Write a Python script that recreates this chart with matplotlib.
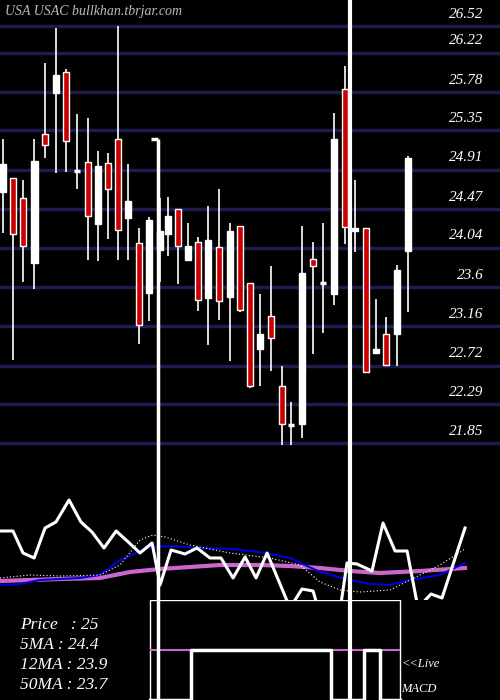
import numpy as np
import matplotlib.pyplot as plt
from matplotlib.patches import Rectangle

# candle data (prices)
opens = [24.66, 24.82, 24.60, 23.87, 25.31, 25.77, 26.00, 24.90, 25.00, 24.30,
         24.99, 25.26, 24.37, 24.09, 23.53, 24.01, 24.19, 24.47, 23.90, 24.10,
         23.48, 24.05, 23.49, 24.28, 23.64, 22.90, 23.27, 22.49, 22.05, 22.07,
         23.91, 23.64, 23.52, 25.81, 24.23, 24.26, 22.86, 23.07, 23.07, 24.00]
closes = [24.97, 24.19, 24.06, 25.01, 25.19, 25.97, 25.23, 24.90, 24.39, 24.95,
          24.70, 24.24, 24.56, 23.17, 24.35, 24.22, 24.39, 24.06, 24.06, 23.45,
          24.13, 23.44, 24.22, 23.34, 22.49, 23.07, 23.03, 22.07, 22.05, 23.75,
          23.83, 23.64, 25.26, 24.27, 24.26, 22.65, 22.90, 22.73, 23.79, 25.04]
highs = [25.25, 24.82, 24.80, 25.25, 26.11, 26.50, 26.04, 25.53, 25.49, 25.12,
         25.10, 26.52, 24.98, 24.26, 24.38, 24.59, 24.61, 24.47, 24.31, 24.16,
         24.50, 24.69, 24.31, 24.28, 23.64, 23.52, 23.83, 22.72, 22.31, 24.28,
         24.10, 24.31, 25.55, 26.07, 24.80, 24.26, 23.47, 23.26, 23.85, 25.07]
lows = [24.20, 22.78, 23.66, 23.58, 25.04, 24.87, 24.88, 24.70, 23.90, 23.89,
        24.14, 23.90, 23.90, 22.96, 23.22, 23.66, 23.95, 23.63, 23.90, 23.33,
        22.95, 23.23, 22.77, 23.32, 22.47, 22.49, 22.66, 21.83, 21.83, 21.91,
        22.85, 23.08, 23.40, 24.08, 23.99, 22.65, 22.86, 22.72, 22.71, 23.32]
candle_x = [0, 0.96, 1.93, 3.0, 4.05, 5.1, 6.07, 7.13, 8.19, 9.15,
            10.12, 11.08, 12.04, 13.1, 14.07, 15.13, 15.9, 16.86, 17.82, 18.79,
            19.75, 20.81, 21.87, 22.83, 23.8, 24.76, 25.82, 26.88, 27.75, 28.8,
            29.87, 30.83, 31.89, 32.95, 33.91, 34.97, 35.94, 36.9, 37.96, 39.02]

grid_prices = [26.52, 26.22, 25.78, 25.35, 24.91, 24.47, 24.04, 23.6, 23.16, 22.72, 22.29, 21.85]
grid_labels = ["26.52", "26.22", "25.78", "25.35", "24.91", "24.47", "24.04", "23.6", "23.16", "22.72", "22.29", "21.85"]

# indicator lines (x in candle units, y in indicator units)
osc_x = [-0.29, 0.96, 1.93, 3.0, 4.05, 5.1, 6.36, 7.51, 8.57, 9.73, 10.9, 11.96, 13.2,
         14.36, 15.13, 16.19, 17.53, 18.69, 19.94, 21.0, 22.16, 23.32, 24.38, 25.44,
         27.65, 28.8, 29.87, 30.35, 32.5, 33.14, 34.1, 35.55, 36.61, 37.77, 38.93,
         39.98, 41.23, 42.29, 44.51]
osc_y = [69, 69, 47, 42, 72, 78, 100, 78, 68, 52, 69, 59, 47,
         57, 15, 50, 46, 52, 42, 42, 22, 43, 22, 47,
         -8, 11, 9, -8, -8, 37, 36, 29, 77, 49, 49,
         -8, 6, 2, 72]
dot_x = [-0.29, 2.6, 5.49, 9.34, 11.27, 13.2, 14.45, 15.61, 18.01, 21.87, 25.72, 28.6, 30.54, 32.47, 34.39, 37.28, 39.21, 42.1, 44.51]
dot_y = [22, 25, 24, 25, 35, 60, 65, 63, 55, 47, 42, 35, 18, 10, 8, 10, 20, 35, 51]
blue_x = [-0.29, 1.64, 3.56, 7.42, 9.34, 11.27, 14.16, 16.09, 18.98, 21.87, 24.76, 27.65, 30.54, 33.43, 35.36, 37.28, 39.21, 42.1, 44.51]
blue_y = [15, 16, 20, 22, 25, 40, 53, 54, 52, 51, 48, 42, 28, 20, 16, 15, 20, 25, 37]
mag_x = [-0.29, 2.6, 5.49, 9.34, 12.23, 15.13, 18.01, 20.9, 24.76, 27.65, 30.54, 33.43, 36.32, 40.17, 44.51]
mag_y = [19, 20, 21, 22, 28, 31, 33, 35, 35, 34, 32, 29, 27, 29, 32]

# MACD step line (x in candle units, level 0/1)
macd_x = [14.16, 18.1, 18.1, 31.6, 31.6, 34.8, 34.8, 36.3, 36.3, 38.25]
macd_y = [0, 0, 1, 1, 0, 0, 1, 1, 0, 0]

SERIF = ["Liberation Serif", "DejaVu Serif"]
XLIM = (-0.29, 47.88)
fig = plt.figure(figsize=(5, 7), dpi=100, facecolor="black")
ax = fig.add_axes([0, 250 / 700, 1, 450 / 700])
ai = fig.add_axes([0, 100 / 700, 1, 150 / 700])
am = fig.add_axes([0, 0, 1, 100 / 700])
for a in (ax, ai, am):
    a.set_facecolor("black")
    a.set_xlim(*XLIM)
    a.axis("off")
ax.set_ylim(21.775, 26.81)
ai.set_ylim(0, 150)
am.set_ylim(0, 2)

for p, lab in zip(grid_prices, grid_labels):
    ax.axhline(p, color="#1c1c50", lw=2.5, zorder=1)
    ax.text(46.3, p + 0.06, lab, color="white", fontsize=11, family=SERIF,
            style="italic", ha="right", va="bottom")

w = 0.65
for x, o, c, h, l in zip(candle_x, opens, closes, highs, lows):
    ax.vlines(x, l, h, color="white", lw=1.2, zorder=2)
    lo, hi = min(o, c), max(o, c)
    face = "white" if c >= o else "#cc0000"
    if hi - lo < 0.03:
        ax.hlines(o, x - w / 2, x + w / 2, color="white", lw=2.5, zorder=3)
    else:
        ax.add_patch(Rectangle((x - w / 2, lo), w, hi - lo, facecolor=face,
                               edgecolor="white", lw=1, zorder=3))

ax.text(0.2, 26.68, "USA USAC bullkhan.tbrjar.com", color="#bbbbbb", fontsize=10,
        family=SERIF, style="italic", va="center")

# tall vertical lines
ax.vlines(14.9, 21.7, 25.25, color="white", lw=2.5, zorder=4)
ax.hlines(25.25, 14.3, 14.9, color="white", lw=2.5, zorder=4)
ax.vlines(33.45, 21.7, 27, color="white", lw=3, zorder=4)
for a in (ai, am):
    a.axvline(14.9, color="white", lw=2.5, zorder=4)
    a.axvline(33.45, color="white", lw=3, zorder=4)

ai.plot(mag_x, mag_y, color="#cc66cc", lw=3, zorder=2)
ai.plot(blue_x, blue_y, color="#0000dd", lw=1.5, zorder=3)
ai.plot(dot_x, dot_y, color="white", lw=0.8, ls=(0, (1, 2)), zorder=3)
ai.plot(osc_x, osc_y, color="white", lw=2.2, zorder=4)

am.add_patch(Rectangle((14.16, -0.1), 38.25 - 14.16, 2.1, fill=False, edgecolor="white", lw=1))
am.hlines(1, 14.16, 38.25, color="#cc66cc", lw=1.5)
am.plot(macd_x, macd_y, color="white", lw=2.5, clip_on=True)
am.text(38.4, 0.66, "<<Live", color="white", fontsize=9, family=SERIF, style="italic")
am.text(38.4, 0.16, "MACD", color="white", fontsize=9, family=SERIF, style="italic")

labels = ["Price   : 25", "5MA : 24.4", "12MA : 23.9", "50MA : 23.7"]
for i, t in enumerate(labels):
    fig.text(20 / 500, 1 - (625 + 20 * i) / 700, t, color="white", fontsize=12.5,
             family=SERIF, style="italic", va="center")

fig.savefig("out.png", dpi=100, facecolor="black")
